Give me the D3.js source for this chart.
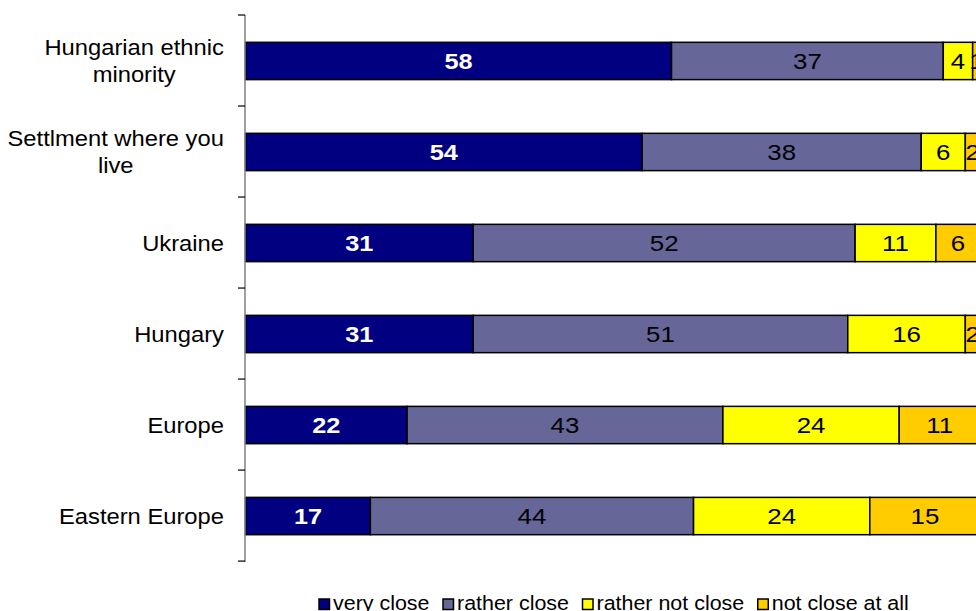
<!DOCTYPE html>
<html>
<head>
<meta charset="utf-8">
<script src="https://cdn.jsdelivr.net/npm/d3@7"></script>
<style>
  html, body { margin: 0; padding: 0; background: #fff; }
  svg { display: block; }
  text { font-family: "Liberation Sans", Arial, sans-serif; }
</style>
</head>
<body>
<svg id="chart" width="976" height="611"></svg>
<script>
// Closeness to territorial / ethnic communities (%)
const categories = [
  ["Hungarian ethnic", "minority"],
  ["Settlment where you", "live"],
  ["Ukraine"],
  ["Hungary"],
  ["Europe"],
  ["Eastern Europe"]
];
const seriesNames = ["very close", "rather close", "rather not close", "not close at all"];
const veryClose      = [58, 54, 31, 31, 22, 17];
const ratherClose    = [37, 38, 52, 51, 43, 44];
const ratherNotClose = [4, 6, 11, 16, 24, 24];
const notCloseAtAll  = [1, 2, 6, 2, 11, 15];
const seriesColors = ["#000080", "#666699", "#FFFF00", "#FFCC00"];
const labelColors  = ["#ffffff", "#000000", "#000000", "#000000"];

const svg = d3.select("#chart");
const keys = categories.map((c, i) => "c" + i);

const rows = keys.map((k, i) => ({
  key: k,
  "very close": veryClose[i],
  "rather close": ratherClose[i],
  "rather not close": ratherNotClose[i],
  "not close at all": notCloseAtAll[i]
}));
const stacked = d3.stack().keys(seriesNames)(rows);

const x = d3.scaleLinear().domain([0, 100]).range([245.5, 980]);
const y = d3.scaleBand().domain(keys).range([15, 562])
  .paddingInner(0.59).paddingOuter(0.3);
const step = y.step();

// Horizontally stretched text helper
function stretchedText(sel, tx, ty, sx) {
  return sel.attr("transform", `translate(${tx},${ty}) scale(${sx},1)`);
}

// Bars
const layers = svg.append("g").selectAll("g")
  .data(stacked).join("g")
  .attr("fill", (d, i) => seriesColors[i]);

layers.selectAll("rect")
  .data(d => d.map(p => ({ p, key: p.data.key })))
  .join("rect")
  .attr("x", d => x(d.p[0]))
  .attr("y", d => y(d.key))
  .attr("width", d => x(d.p[1]) - x(d.p[0]))
  .attr("height", y.bandwidth())
  .attr("stroke", "#000")
  .attr("stroke-width", 1.5);

// Value labels
stacked.forEach((layer, si) => {
  layer.forEach(p => {
    const v = p[1] - p[0];
    const cx = (x(p[0]) + x(p[1])) / 2;
    const cy = y(p.data.key) + y.bandwidth() / 2;
    stretchedText(svg.append("text"), cx, cy, 1.15)
      .attr("text-anchor", "middle")
      .attr("dy", "0.36em")
      .attr("font-size", si === 0 ? 22 : 22.5)
      .attr("font-weight", si === 0 ? "bold" : "normal")
      .attr("fill", labelColors[si])
      .text(v);
  });
});

// Category axis: line with ticks at band boundaries
const axis = svg.append("g");
axis.append("line")
  .attr("x1", 245).attr("x2", 245)
  .attr("y1", 15).attr("y2", 562)
  .attr("stroke", "#808080").attr("stroke-width", 1.5);
d3.range(keys.length + 1).forEach(i => {
  const ty = 15 + step * i;
  axis.append("line")
    .attr("x1", 238).attr("x2", 245)
    .attr("y1", ty).attr("y2", ty)
    .attr("stroke", "#000").attr("stroke-width", 1.2);
});

// Category labels (wrapped lines centred in a right-aligned block)
const catScale = 1.08;
categories.forEach((lines, i) => {
  const cy = y(keys[i]) + y.bandwidth() / 2;
  const g = svg.append("g");
  const texts = lines.map((ln, j) => {
    const ty = cy + (j - (lines.length - 1) / 2) * 27;
    return g.append("text")
      .attr("text-anchor", "middle")
      .attr("dy", "0.36em")
      .attr("font-size", 22)
      .attr("fill", "#000")
      .text(ln)
      .datum(ty);
  });
  const maxW = d3.max(texts, t => t.node().getComputedTextLength()) * catScale;
  const cx = 224 - maxW / 2;
  texts.forEach(t => stretchedText(t, cx, t.datum(), catScale));
});

// Legend
const legScale = 1.1;
let lx = 319;
const legY = 610;
seriesNames.forEach((name, i) => {
  svg.append("rect")
    .attr("x", lx).attr("y", legY - 11)
    .attr("width", 10.5).attr("height", 10.5)
    .attr("fill", seriesColors[i])
    .attr("stroke", "#000").attr("stroke-width", 1.5);
  const t = stretchedText(svg.append("text"), lx + 14, legY, legScale)
    .attr("font-size", 19.5)
    .attr("fill", "#000")
    .text(name);
  lx += 14 + t.node().getComputedTextLength() * legScale + 13.5;
});
</script>
</body>
</html>
